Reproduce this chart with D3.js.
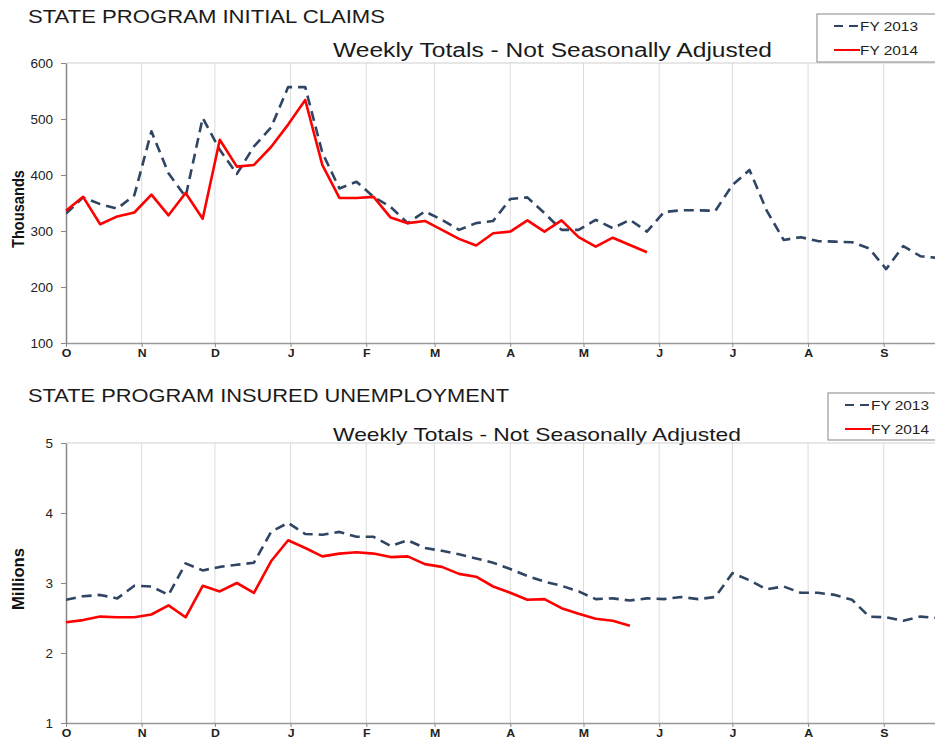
<!DOCTYPE html>
<html>
<head>
<meta charset="utf-8">
<script src="https://cdn.jsdelivr.net/npm/d3@7"></script>
<style>
  html, body { margin: 0; padding: 0; background: #fff; }
  svg { display: block; }
  text { font-family: "Liberation Sans", Arial, sans-serif; }
</style>
</head>
<body>
<svg id="chart" width="935" height="740"></svg>
<script>
// ---------- DATA ----------
const monthLabels = ["O","N","D","J","F","M","A","M","J","J","A","S"];
const monthStartDays = [0,31,61,92,123,151,182,212,243,273,304,335];

// Initial claims, thousands, weekly (week 0 = start of October)
const claimsFY2013 = [331,360,348,340,364,478,403,361,502,445,402,451,485,557,557,440,
  376,388,361,343,314,335,320,302,314,318,357,360,332,302,302,320,305,320,299,334,
  337,337,336,382,409,337,284,289,282,281,280,269,232,273,255,252];
const claimsFY2014 = [336,361,312,326,333,365,328,368,322,463,415,418,450,490,534,418,
  359,359,361,324,314,318,302,286,274,296,299,319,299,319,289,272,288,275,262];

// Insured unemployment, millions, weekly
const insuredFY2013 = [2.76,2.81,2.83,2.78,2.96,2.95,2.83,3.28,3.18,3.23,3.26,3.29,3.73,3.86,
  3.70,3.69,3.73,3.66,3.66,3.53,3.61,3.50,3.46,3.41,3.35,3.29,3.20,3.10,3.02,2.96,2.88,
  2.77,2.78,2.75,2.78,2.77,2.80,2.77,2.80,3.14,3.04,2.91,2.95,2.86,2.86,2.83,2.76,2.52,
  2.51,2.46,2.52,2.50];
const insuredFY2014 = [2.44,2.47,2.52,2.51,2.51,2.55,2.68,2.51,2.96,2.88,3.00,2.86,3.31,3.61,
  3.50,3.38,3.42,3.44,3.42,3.37,3.38,3.27,3.23,3.13,3.09,2.95,2.86,2.76,2.77,2.64,2.56,
  2.49,2.46,2.39];

const claimsTicks = [100,200,300,400,500,600];
const insuredTicks = [1,2,3,4,5];
const seriesNames = ["FY 2013","FY 2014"];

// ---------- DRAW ----------
const svg = d3.select("#chart");
const COL13 = "#2f4563";
const COL14 = "#ff0000";
const DAYS_PER_WEEK = 7;

const x = d3.scaleLinear().domain([0, 356]).range([66, 935]);

function panel(cfg) {
  const g = svg.append("g");
  const y = d3.scaleLinear().domain(cfg.domain).range([cfg.bottom, cfg.top]);

  // titles
  g.append("text").attr("x", 28).attr("y", cfg.titleY)
    .attr("font-size", 18.5).attr("fill", "#1a1a1a")
    .attr("textLength", cfg.titleLen).attr("lengthAdjust", "spacingAndGlyphs")
    .text(cfg.title);
  g.append("text").attr("x", 333).attr("y", cfg.subY)
    .attr("font-size", cfg.subSize).attr("fill", "#1a1a1a")
    .attr("textLength", cfg.subLen).attr("lengthAdjust", "spacingAndGlyphs")
    .text("Weekly Totals - Not Seasonally Adjusted");

  // month grid lines
  g.append("g").selectAll("line").data(monthStartDays.slice(1)).join("line")
    .attr("x1", d => x(d)).attr("x2", d => x(d))
    .attr("y1", cfg.top).attr("y2", cfg.bottom)
    .attr("stroke", "#dcdcdc").attr("stroke-width", 1);

  // top frame
  g.append("line").attr("x1", x(0)).attr("x2", 935)
    .attr("y1", cfg.top).attr("y2", cfg.top)
    .attr("stroke", "#cfcfcf").attr("stroke-width", 1);

  // x axis
  const xAxis = d3.axisBottom(x).tickValues(monthStartDays)
    .tickFormat((d, i) => monthLabels[i]).tickSize(4).tickSizeOuter(0);
  const xg = g.append("g").attr("transform", `translate(0,${cfg.bottom})`).call(xAxis);
  xg.select(".domain").attr("stroke", "#999").attr("stroke-width", 1.5);
  xg.selectAll(".tick line").attr("stroke", "#888");
  xg.selectAll(".tick text").attr("font-size", 11).attr("fill", "#222")
    .attr("font-family", "Liberation Sans, Arial, sans-serif")
    .attr("y", 6).attr("dy", "0.72em")
    .attr("font-weight", "bold").attr("transform", "scale(1.12,1)");

  // y axis
  const yAxis = d3.axisLeft(y).tickValues(cfg.ticks).tickSize(5).tickSizeOuter(0)
    .tickFormat(d3.format("d"));
  const yg = g.append("g").attr("transform", `translate(${x(0)},0)`).call(yAxis);
  yg.select(".domain").attr("stroke", "#888").attr("stroke-width", 1.5);
  yg.selectAll(".tick line").attr("stroke", "#888");
  yg.selectAll(".tick text").attr("font-size", 13.5).attr("fill", "#222")
    .attr("font-family", "Liberation Sans, Arial, sans-serif").attr("x", -13);

  // y label
  g.append("text")
    .attr("transform", `translate(${cfg.labelX},${cfg.labelY}) rotate(-90)`)
    .attr("text-anchor", "middle").attr("font-size", 16.5).attr("font-weight", "bold")
    .attr("fill", "#111").attr("textLength", cfg.labelLen).attr("lengthAdjust", "spacingAndGlyphs")
    .text(cfg.label);

  // lines
  const line = d3.line().x((d, i) => x(i * DAYS_PER_WEEK)).y(d => y(d));
  const clipId = "clip" + cfg.top;
  g.append("clipPath").attr("id", clipId).append("rect")
    .attr("x", x(0)).attr("y", cfg.top - 5).attr("width", 935 - x(0)).attr("height", cfg.bottom - cfg.top + 5);
  g.append("path").datum(cfg.s13).attr("d", line).attr("clip-path", `url(#${clipId})`)
    .attr("fill", "none").attr("stroke", COL13).attr("stroke-width", 2.6)
    .attr("stroke-dasharray", "10,6").attr("stroke-linejoin", "round");
  g.append("path").datum(cfg.s14).attr("d", line)
    .attr("fill", "none").attr("stroke", COL14).attr("stroke-width", 2.6)
    .attr("stroke-linejoin", "round");

  // legend
  const lg = g.append("g");
  lg.append("rect").attr("x", cfg.legX).attr("y", cfg.legY)
    .attr("width", 960 - cfg.legX).attr("height", cfg.legH)
    .attr("fill", "#fff").attr("stroke", "#999").attr("stroke-width", 1.2);
  const items = [{name: seriesNames[0], color: COL13, dash: "9,6"},
                 {name: seriesNames[1], color: COL14, dash: null}];
  items.forEach((it, k) => {
    const ly = cfg.legY + 12 + k * 24;
    lg.append("line").attr("x1", cfg.legX + 17).attr("x2", cfg.legX + 43)
      .attr("y1", ly).attr("y2", ly)
      .attr("stroke", it.color).attr("stroke-width", 2)
      .attr("stroke-dasharray", it.dash);
    lg.append("text").attr("x", cfg.legX + 43).attr("y", ly + 4.5)
      .attr("font-size", 13).attr("fill", "#222")
      .attr("textLength", 58).attr("lengthAdjust", "spacingAndGlyphs")
      .text(it.name);
  });
}

panel({
  top: 63, bottom: 343, domain: [100, 600], ticks: claimsTicks,
  title: "STATE PROGRAM INITIAL CLAIMS", titleY: 23, titleLen: 357,
  subY: 57, subSize: 20, subLen: 439,
  label: "Thousands", labelX: 24, labelY: 209, labelLen: 78,
  s13: claimsFY2013, s14: claimsFY2014,
  legX: 817, legY: 14, legH: 48
});

panel({
  top: 443, bottom: 723, domain: [1, 5], ticks: insuredTicks,
  title: "STATE PROGRAM INSURED UNEMPLOYMENT", titleY: 402, titleLen: 481,
  subY: 441, subSize: 19, subLen: 408,
  label: "Millions", labelX: 24, labelY: 579, labelLen: 62,
  s13: insuredFY2013, s14: insuredFY2014,
  legX: 828, legY: 393, legH: 47
});
</script>
</body>
</html>
